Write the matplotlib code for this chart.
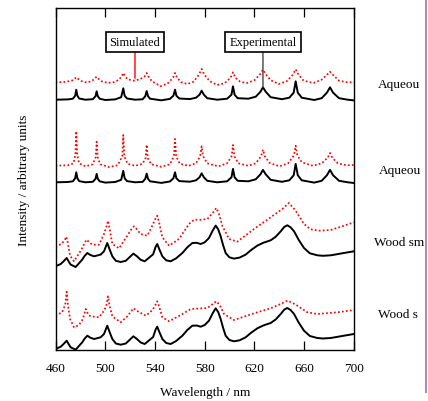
import matplotlib
matplotlib.use("Agg")
import matplotlib.pyplot as plt
import numpy as np
from matplotlib.lines import Line2D

plt.rcParams['font.family'] = ['Liberation Serif', 'DejaVu Serif']

# aqueous experimental spectrum (baseline ~0)
aq_exp_nm = [460, 470, 474, 475.8, 476.7, 477.6, 479, 484, 490, 492.2, 493.1, 494, 495.5,
             500, 508, 512.8, 514.5, 515.6, 517.5, 524, 530, 532.2, 533.3, 534.4, 536,
             545, 552, 554.8, 556.1, 557.2, 559.5, 568, 573, 575.8, 577.5, 579.3, 582,
             590, 598, 601.5, 602.7, 604, 606.5, 615, 621, 624.8, 626.8, 629, 633,
             642, 648, 651.5, 653.1, 654.8, 658, 668, 674, 678.2, 680.7, 683.2, 688, 695, 700]
aq_exp = [0, 0.3, 1.0, 4, 10, 4, 1.2, 0, 0.5, 3.5, 8.4, 3.5, 1,
          -0.3, 0.3, 2.5, 11.4, 4, 1.2, 0, 0.4, 3.5, 8.7, 3.5, 1,
          -0.6, 0.8, 4, 10, 4, 1.2, 0.6, 2, 5, 9, 5, 1.5,
          0, 1, 5, 13.4, 5, 1.5, 1, 3, 8, 12.4, 8, 2.5,
          0.5, 2, 7, 18.4, 7, 2, -0.3, 1.5, 7, 12.4, 7, 1.5, 0, -0.7]

# aqueous simulation 1 (broad lines)
aq_sim1_nm = [460, 468, 473, 475.5, 476.7, 478, 481, 485, 489, 491.5, 493, 494.5, 497,
              502, 507, 511, 513.3, 514.5, 515.8, 518, 523, 528, 531.8, 533.3, 534.8, 537.5,
              544.5, 550, 554.5, 556.1, 557.7, 561, 566, 571, 575.3, 577.5, 579.7, 584,
              590, 596, 600.8, 602.7, 604.6, 608.5, 614, 620, 624.5, 626.8, 629, 633,
              639.5, 646, 650.8, 653.1, 655.4, 659.5, 667.5, 674, 678.3, 680.7, 683, 688, 694, 700]
aq_sim1 = [17.4, 17.8, 19, 21, 22.4, 21, 18.5, 17.2, 18.5, 21, 23, 21, 18.5,
           16.8, 17.5, 20, 23.5, 26.7, 23.5, 20.5, 19, 20.5, 23.5, 26.7, 23, 18.5,
           13.5, 16, 22, 26.7, 22, 17.5, 15.7, 18, 25, 30.7, 25, 18.5,
           14.7, 16.5, 22, 27.4, 22, 18, 16.7, 19.5, 25.5, 30, 25.5, 19.5,
           15.7, 18.5, 25, 30.4, 25, 19, 16.7, 20, 25, 28, 25, 19, 17.5, 17.4]

# aqueous simulation 2 (sharp lines)
aq_sim2_nm = [460, 470, 474.5, 476, 476.7, 477.4, 479, 484, 490, 492.3, 493.1, 493.9, 496,
              503, 510, 513.7, 514.5, 515.3, 518, 524, 530, 532.4, 533.3, 534.2, 537,
              545, 552, 555.2, 556.1, 557, 560, 567, 573, 576.3, 577.5, 578.7, 582,
              591, 598, 601.6, 602.7, 603.8, 607, 615, 621, 625.3, 626.8, 628.3, 632,
              640, 647, 651.8, 653.1, 654.4, 658, 667, 674, 678.8, 680.7, 682.6, 687, 694, 700]
aq_sim2 = [16.6, 17, 19, 28, 51, 28, 19, 16, 18, 25, 40.6, 25, 18,
           15.3, 17, 26, 47.3, 26, 18.5, 16.5, 18.5, 24, 37.6, 24, 18,
           15.5, 18, 26, 43.3, 26, 18.5, 16.5, 19, 26, 36, 26, 19,
           16, 19, 26, 37.3, 26, 19, 16.5, 19, 26, 32.6, 26, 19.5,
           16, 19, 27, 36.6, 27, 20, 16.5, 19, 24.5, 29.3, 24.5, 19, 17, 17.3]

# wood experimental spectrum
wood_exp_nm = [460, 464.2, 466.5, 469, 471, 472.2, 476.2, 481.5, 483.5, 485.6, 488, 491, 496.3,
               499, 501.6, 503.8, 505.7, 508.5, 512.4, 516.5, 519.5, 522.6, 525.5, 528.5, 531.7,
               538.5, 540.5, 541.8, 543.5, 545.9, 549, 552.6, 557, 562, 566, 570, 573.5,
               576.7, 580, 583.4, 586.5, 588.8, 590.8, 592.8, 594.8, 596.8, 599.8, 603.5, 608,
               612.9, 617, 622.3, 627, 633, 637, 641.1, 644, 646.4, 649, 651.8, 655.5,
               659.8, 664.5, 670.5, 675, 681.3, 686, 691.9, 700]
wood_exp = [1, 3.3, 6, 9.3, 5, 2.7, 0.3, 7.7, 11.5, 14.3, 12.3, 11, 12.7,
            16, 24.3, 17, 11, 6.5, 5.3, 6.5, 10, 13.7, 11, 7.5, 6,
            13, 20.5, 23.3, 18, 11, 7, 6, 9, 14.3, 20, 24.3, 24.5,
            23.3, 25, 29.3, 37, 41.7, 38, 31, 22, 14.3, 10, 8.7, 9.7,
            12.7, 17, 21.7, 24.5, 27, 30.5, 36, 40.5, 42, 40, 36, 27.5,
            19.3, 14, 12, 11.5, 12, 13, 14.3, 16]

# wood simulation A
wood_simA_nm = [460, 464.7, 467.6, 468.7, 469.8, 471.7, 474.9, 480.3, 483.2, 484.8, 486.8, 489.6,
                495, 499, 500.8, 502.2, 503.6, 505.7, 511.1, 517.7, 521.3, 523.1, 525, 528.5,
                533.8, 537.8, 540.3, 541.8, 543.3, 545.9, 551.3, 559.3, 567.3, 571.4, 577,
                582.1, 586.5, 589.3, 591.8, 594.1, 599.5, 606.2, 619.6, 633, 642.4, 647.7,
                653.1, 659.8, 665, 671.9, 681.3, 692, 700]
wood_simA = [20.6, 23.3, 27.5, 30.6, 25, 11.6, 6, 16.6, 23.5, 27.6, 25.5, 22.6,
             22.6, 33.3, 40, 46.6, 38, 23.3, 19, 31.6, 38.5, 41, 38.5, 33.3,
             31.6, 41.6, 48.5, 51.6, 45, 30, 21.6, 28.3, 43.3, 47.6, 47.5,
             48.3, 54.5, 59.3, 52, 41.6, 28.3, 25.6, 38.3, 50, 58.3, 64.3,
             56.6, 43.3, 38, 36.6, 37.3, 41.6, 45]

# wood simulation B
wood_simB_nm = [460, 465.3, 467.8, 469, 470, 471.7, 474.9, 478.9, 482, 484.3, 486.5, 488.3,
                495, 499, 500.8, 502.2, 503.5, 505.7, 512.4, 518, 522.6, 527, 532.7, 538,
                540.5, 541.8, 543.2, 545.9, 551.3, 560.7, 568.8, 582.1, 586.5, 589.3, 592,
                595.5, 603.5, 619.6, 633, 641, 646.4, 650, 654.5, 662.5, 670.5, 686.6, 700]
wood_simB = [34.3, 37.7, 45, 58.3, 45, 31, 22.7, 25, 31, 41, 35, 33.7,
             32.7, 39.3, 44, 53.7, 44, 33.7, 27.7, 34, 41.7, 38, 34.3, 40,
             45.5, 48.7, 44, 32.7, 28.7, 35, 41, 42, 46, 48.7, 45,
             36, 30, 36.7, 41.7, 46, 49.3, 47.5, 44.3, 37.7, 36, 37.7, 40]

# stacking offsets for the four panels (top to bottom)
offsets = [250.3, 167.7, 82.7, 0]
# sample names as far as they show at the page edge
panel_labels = ["Aqueou", "Aqueou", "Wood sm", "Wood s"]

fig = plt.figure(figsize=(4.28, 4.02), dpi=100)
ax = fig.add_axes([55.5 / 428, 51 / 402, 298.5 / 428, 342 / 402])

red_ls = (0, (1.0, 1.3))
pairs = [(aq_exp_nm, aq_exp, aq_sim1_nm, aq_sim1),
         (aq_exp_nm, aq_exp, aq_sim2_nm, aq_sim2),
         (wood_exp_nm, wood_exp, wood_simA_nm, wood_simA),
         (wood_exp_nm, wood_exp, wood_simB_nm, wood_simB)]
for off, (enm, ey, snm, sy) in zip(offsets, pairs):
    ax.plot(snm, np.array(sy) + off, color='red', lw=1.25, ls=red_ls)
    ax.plot(enm, np.array(ey) + off, color='black', lw=1.4)

ax.set_xlim(460, 700)
ax.set_ylim(0, 342)
ax.set_xticks(np.arange(460, 701, 40))
ax.set_yticks([])
ax.tick_params(axis='x', direction='in', top=True, length=6.5, width=0.9,
               labelsize=9.5, pad=9)
for sp in ax.spines.values():
    sp.set_linewidth(1.0)
ax.set_xlabel("Wavelength / nm", fontsize=9.5, labelpad=8)
ax.set_ylabel("Intensity / arbitrary units", fontsize=9.5, labelpad=18)

# labels for the two kinds of trace
box = dict(boxstyle='square,pad=0.32', fc='white', ec='black', lw=1.2)
ax.annotate("Simulated", xy=(523.9, offsets[0] + 21.5), xytext=(523.9, 308),
            ha='center', va='center', fontsize=9, bbox=box,
            arrowprops=dict(arrowstyle='-', color='red', lw=1.0, shrinkA=0, shrinkB=0))
ax.annotate("Experimental", xy=(626.8, offsets[0] + 12.4), xytext=(626.8, 308),
            ha='center', va='center', fontsize=9, bbox=box,
            arrowprops=dict(arrowstyle='-', color='#444444', lw=1.0, shrinkA=0, shrinkB=0))

# sample names at the right
label_x = [378, 379, 374, 377.5]
label_y = [85, 171, 243, 315]
for lx, ly, lab in zip(label_x, label_y, panel_labels):
    fig.text(lx / 428, 1 - ly / 402, lab, ha='left', va='center', fontsize=9.5)

fig.add_artist(Line2D([425.5 / 428] * 2, [1, 1 - 393 / 402], transform=fig.transFigure,
                      color='#a68cc2', lw=1.5))

fig.savefig("out.png", dpi=100)
